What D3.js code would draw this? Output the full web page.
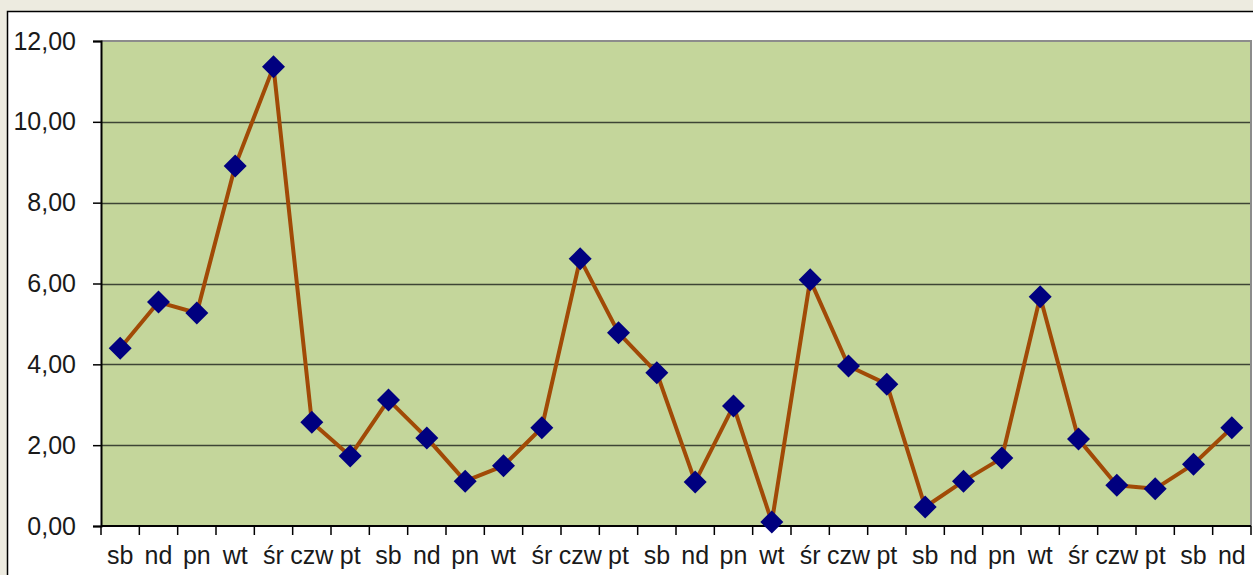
<!DOCTYPE html>
<html lang="pl">
<head>
<meta charset="UTF-8">
<title>Wykres</title>
<script src="https://d3js.org/d3.v7.min.js"></script>
<style>
	body { margin: 0; background: #edebe0; }
	svg { display: block; font-family: "Liberation Sans", Arial, sans-serif; }
</style>
</head>
<body>
<div id="chart"></div>
<script>
// days of the week (category labels)
const days = ["sb","nd","pn","wt","śr","czw","pt","sb","nd","pn","wt","śr","czw","pt",
	"sb","nd","pn","wt","śr","czw","pt","sb","nd","pn","wt","śr","czw","pt","sb","nd"];
// values
const values = [4.40,5.54,5.27,8.91,11.36,2.57,1.73,3.12,2.18,1.11,1.49,2.43,6.61,4.78,
	3.79,1.09,2.97,0.10,6.09,3.96,3.51,0.47,1.11,1.68,5.67,2.15,1.01,0.92,1.53,2.43];
const yTicks = [0,2,4,6,8,10,12];

const W = 1253, H = 575;
const m = { left: 101, top: 41, right: 1251, bottom: 526 };
const fontSize = 25;

const svg = d3.select("#chart").append("svg")
	.attr("width", W).attr("height", H);

// white chart area with black border
svg.append("rect")
	.attr("x", 7.5).attr("y", 11.5)
	.attr("width", W + 10).attr("height", H + 10)
	.attr("fill", "#fff").attr("stroke", "#000").attr("stroke-width", 1.5);

const x = d3.scaleBand().domain(d3.range(days.length)).range([m.left, m.right]);
const y = d3.scaleLinear().domain([0, 12]).range([m.bottom, m.top]);

// plot area
svg.append("rect")
	.attr("x", m.left).attr("y", m.top)
	.attr("width", m.right - m.left).attr("height", m.bottom - m.top)
	.attr("fill", "#c4d69b");

// gridlines
svg.append("g").selectAll("line")
	.data(yTicks.filter(d => d > 0 && d < 12))
	.join("line")
	.attr("x1", m.left).attr("x2", m.right)
	.attr("y1", d => Math.round(y(d)) + 0.5).attr("y2", d => Math.round(y(d)) + 0.5)
	.attr("stroke", "#3d4535").attr("stroke-width", 1.3);

// top and right border of plot area
svg.append("path")
	.attr("d", `M${m.left},${m.top} H${m.right} V${m.bottom}`)
	.attr("fill", "none").attr("stroke", "#8c8c8c").attr("stroke-width", 2);

// y axis
const yAxis = svg.append("g")
	.attr("transform", `translate(${m.left},0)`)
	.call(d3.axisLeft(y).tickValues(yTicks).tickSize(8).tickPadding(17)
		.tickFormat(d => d3.format(".2f")(d).replace(".", ",")));
yAxis.attr("font-size", fontSize).attr("font-family", "Liberation Sans, Arial, sans-serif");
yAxis.select(".domain").attr("stroke", "#000").attr("stroke-width", 2);
yAxis.selectAll(".tick line").attr("stroke", "#000").attr("stroke-width", 1.5);
yAxis.selectAll("text").attr("fill", "#1a1a1a");

// x axis: ticks on category boundaries
const xg = svg.append("g").attr("transform", `translate(0,${m.bottom})`);
xg.append("line").attr("x1", m.left).attr("x2", m.right)
	.attr("stroke", "#000").attr("stroke-width", 2);
xg.selectAll(".tk").data(d3.range(days.length + 1)).join("line")
	.attr("class", "tk")
	.attr("x1", i => m.left + i * x.bandwidth()).attr("x2", i => m.left + i * x.bandwidth())
	.attr("y1", 0).attr("y2", 9)
	.attr("stroke", "#000").attr("stroke-width", 1.5);
xg.selectAll("text").data(days).join("text")
	.attr("x", (d, i) => x(i) + x.bandwidth() / 2)
	.attr("y", 38)
	.attr("text-anchor", "middle")
	.attr("font-size", fontSize).attr("fill", "#1a1a1a")
	.text(d => d);

// line
const line = d3.line().x((d, i) => x(i) + x.bandwidth() / 2).y(d => y(d));
svg.append("path").datum(values)
	.attr("d", line)
	.attr("fill", "none").attr("stroke", "#a14a06").attr("stroke-width", 4)
	.attr("stroke-linejoin", "round");

// diamond markers
svg.append("g").selectAll("path").data(values).join("path")
	.attr("transform", (d, i) => `translate(${x(i) + x.bandwidth() / 2},${y(d)})`)
	.attr("d", "M0,-11.5 L11.5,0 L0,11.5 L-11.5,0 Z")
	.attr("fill", "#00007f");
</script>
</body>
</html>
